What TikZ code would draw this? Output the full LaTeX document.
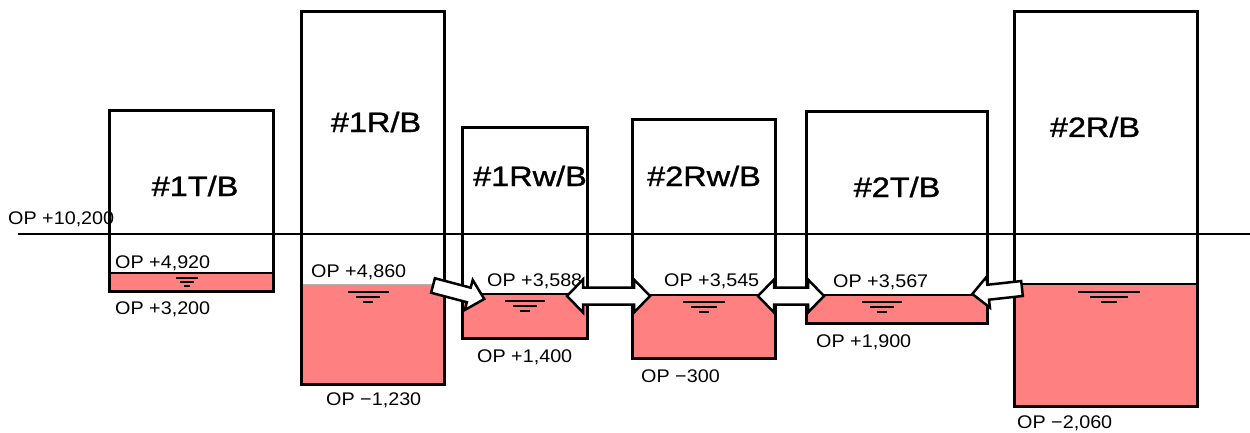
\documentclass[tikz,border=0pt]{standalone}
\usepackage{fontspec}
\setmainfont{Liberation Sans}
\newfontfamily\labfont[FakeStretch=1.08]{Liberation Sans}
\newfontfamily\titfont[FakeStretch=1.16,FakeBold=1.2]{Liberation Sans}
\definecolor{water}{RGB}{255,128,128}
\newcommand\wlsym[4]{% cx, y, width, spacing
  \draw[wlline] ({#1-#3/2},#2) -- ({#1+#3/2},#2);
  \draw[wlline] ({#1-#3*0.3},{#2+#4}) -- ({#1+#3*0.3},{#2+#4});
  \draw[wlline] ({#1-#3*0.13},{#2+2*#4}) -- ({#1+#3*0.13},{#2+2*#4});}
\newcommand\singlearrow[4]{% tail x, tail y, rotation, length
  \begin{scope}[shift={(#1,#2)},rotate=#3]
    \draw[blockarrow] (0,-7.5) -- ({#4-16},-7.5) -- ({#4-16},-15.5) -- (#4,0) -- ({#4-16},15.5) -- ({#4-16},7.5) -- (0,7.5) -- cycle;
  \end{scope}}
\newcommand\doublearrow[3]{% left tip x, y, length
  \begin{scope}[shift={(#1,#2)}]
    \draw[blockarrow] (0,0) -- (16,-16.5) -- (16,-8.5) -- ({#3-16},-8.5) -- ({#3-16},-16.5) -- (#3,0) -- ({#3-16},16.5) -- ({#3-16},8.5) -- (16,8.5) -- (16,16.5) -- cycle;
  \end{scope}}
\begin{document}
\begin{tikzpicture}[x=1pt,y=-1pt,
  tank/.style={draw=black, line width=3pt},
  wat/.style={fill=water},
  surf/.style={line width=2.2pt},
  wlline/.style={line width=2.4pt},
  lbl/.style={anchor=base west, inner sep=0pt, font=\labfont\fontsize{18.3}{20}\selectfont},
  ttl/.style={anchor=base, inner sep=0pt, font=\titfont\fontsize{28}{30}\selectfont},
  blockarrow/.style={draw=black, fill=white, line width=2.5pt, line join=miter}]
\useasboundingbox (0,0) rectangle (1250,433);
% water fills
\fill[wat] (109,273) rectangle (273,291);
\fill[wat] (301,285) rectangle (444,384);
\fill[wat] (462,294) rectangle (587,338);
\fill[wat] (632,295) rectangle (775,358);
\fill[wat] (806,295) rectangle (987,323);
\fill[wat] (1014,284) rectangle (1197,406);
% surface lines
\draw[surf] (109,273) -- (273,273);
\draw[gray!60, line width=1pt] (301,284) -- (444,284);
\draw[surf] (462,294) -- (587,294);
\draw[surf] (632,295) -- (775,295);
\draw[surf] (806,295) -- (987,295);
\draw[surf] (1014,284) -- (1197,284);
% ground line
\draw[line width=2pt] (18,234) -- (1250,234);
% tanks
\draw[tank] (109,111) rectangle (273,291);
\draw[tank] (301,12) rectangle (444,384);
\draw[tank] (462,128) rectangle (587,338);
\draw[tank] (632,120) rectangle (775,358);
\draw[tank] (806,112) rectangle (987,323);
\draw[tank] (1014,12) rectangle (1197,406);
% water level symbols
\wlsym{187}{278}{22}{4}
\wlsym{368}{292}{41}{5}
\wlsym{525}{301}{40}{5}
\wlsym{704}{302}{42}{5}
\wlsym{882}{302}{40}{5}
\wlsym{1109}{292}{62}{5}
% titles
\node[ttl] (t1) at (195,196) {\#1T/B};
\node[ttl] (t2) at (376,132) {\#1R/B};
\node[ttl] (t3) at (530,186) {\#1Rw/B};
\node[ttl] (t4) at (704,186) {\#2Rw/B};
\node[ttl] (t5) at (897,197) {\#2T/B};
\node[ttl] (t6) at (1095,137) {\#2R/B};
% labels
\node[lbl] (l1) at (8,224) {OP +10,200};
\node[lbl] (l2) at (115,268) {OP +4,920};
\node[lbl] (l3) at (115,314) {OP +3,200};
\node[lbl] (l4) at (311,277) {OP +4,860};
\node[lbl] (l5) at (326,405) {OP −1,230};
\node[lbl] (l6) at (487,286) {OP +3,588};
\node[lbl] (l7) at (477,362) {OP +1,400};
\node[lbl] (l8) at (664,286) {OP +3,545};
\node[lbl] (l9) at (641,382) {OP −300};
\node[lbl] (l10) at (833,287) {OP +3,567};
\node[lbl] (l11) at (816,347) {OP +1,900};
\node[lbl] (l12) at (1017,428) {OP −2,060};
% arrows
\singlearrow{433}{285.5}{-14.8}{53}
\doublearrow{567}{296}{83}
\doublearrow{758}{296}{66}
\singlearrow{1022}{288.5}{186.3}{50}
\end{tikzpicture}
\end{document}
